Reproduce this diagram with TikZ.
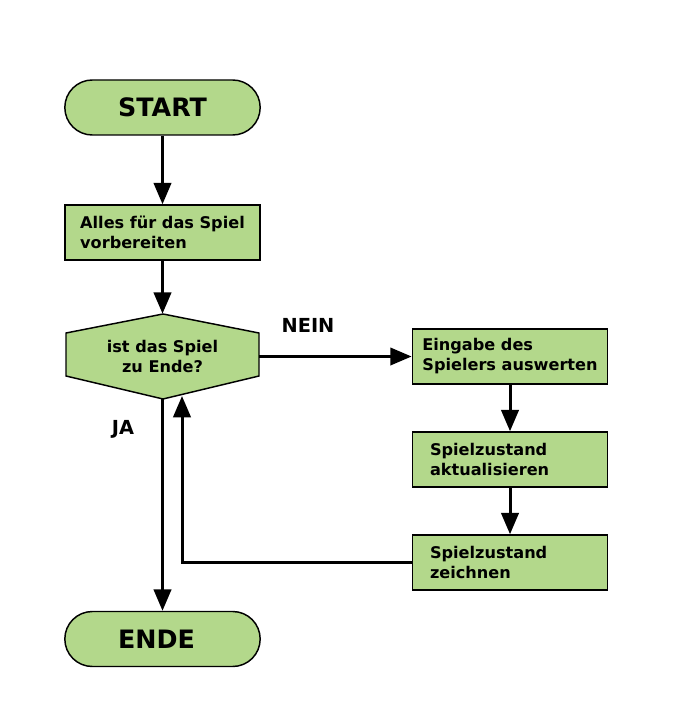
\documentclass[tikz,border=0pt]{standalone}
\usepackage{fontspec}
\setmainfont{DejaVu Sans}
\usetikzlibrary{arrows.meta}
\definecolor{boxgreen}{RGB}{179,216,139}
\tikzset{
  flow/.style={draw=black,line width=1.1pt,fill=boxgreen},
  terminal/.style={flow,rounded corners=20.6pt,minimum width=146.5pt,minimum height=41.25pt,font=\fontsize{19}{23}\selectfont\bfseries},
  stepbox/.style={flow,minimum width=146.5pt,minimum height=41.25pt,align=left,font=\fontsize{12.1}{15}\selectfont\bfseries},
  flowarrow/.style={line width=2.25pt,-{Triangle[length=16pt,width=13pt]}},
  answer/.style={font=\fontsize{14.5}{17}\selectfont\bfseries}
}
\begin{document}
\begin{tikzpicture}[x=0.75pt,y=-0.75pt]
                        \useasboundingbox (0,0) rectangle (695,706);
                        \node[terminal] (start) at (162.5,107.5) {START};
                        \node[stepbox] (prepare) at (162.5,232.5) {Alles für das Spiel\\vorbereiten};

                        \draw[flow] (163,314) -- (259,333) -- (259,376) -- (163,399) -- (66,376) -- (66,333) -- cycle;
                        \node[align=center,minimum width=144.75pt,minimum height=63.75pt,font=\fontsize{12.1}{15}\selectfont\bfseries] (check) at (162.5,356.5) {ist das Spiel\\zu Ende?};

                        \node[stepbox] (input) at (510,356.5) {Eingabe des\\Spielers auswerten};
                        \node[stepbox,text width=120pt,inner xsep=13.25pt] (update) at (510,459.5) {Spielzustand\\aktualisieren};
                        \node[stepbox,text width=120pt,inner xsep=13.25pt] (render) at (510,562.5) {Spielzustand\\zeichnen};
                        \node[terminal] (ende) at (162.5,639) {ENDE\kern 9pt};

                        \node[answer] (nein) at (308,325) {NEIN};
                        \node[answer] (ja) at (123,429) {JA};
                        \coordinate (back) at (182,396);

                        \draw[flowarrow] (start) -- (prepare);
                        \draw[flowarrow] (prepare) -- (check);
                        \draw[flowarrow] (check.east) -- (input.west);
                        \draw[flowarrow] (input) -- (update);
                        \draw[flowarrow] (update) -- (render);
                        \draw[flowarrow] (render.west) -| (back);
                        \draw[flowarrow] (check.south) -- (ende.north);
                    \end{tikzpicture}
\end{document}
